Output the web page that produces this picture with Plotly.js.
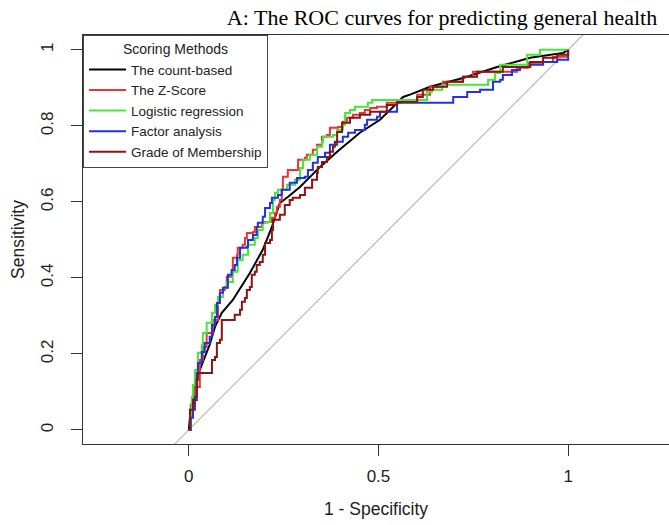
<!DOCTYPE html>
<html>
<head>
<meta charset="utf-8">
<script src="https://cdn.plot.ly/plotly-3.0.1.min.js"></script>
<style>
  html, body { margin: 0; padding: 0; background: #ffffff; }
  #chart { width: 669px; height: 525px; }
</style>
</head>
<body>
<div id="chart"></div>
<script>
// ---- Data ----
var seriesNames = ["The count-based", "The Z-Score", "Logistic regression", "Factor analysis", "Grade of Membership"];

// The count-based (smooth curve)
var countFpr = [0, 0.005, 0.016, 0.029, 0.055, 0.069, 0.087, 0.116, 0.161, 0.195, 0.219, 0.240, 0.261, 0.285, 0.293, 0.346, 0.391, 0.451, 0.504, 0.544, 0.565, 0.583, 0.636, 0.723, 0.813, 0.900, 0.987, 1];
var countTpr = [0, 0.053, 0.118, 0.158, 0.224, 0.271, 0.308, 0.342, 0.413, 0.474, 0.534, 0.597, 0.613, 0.632, 0.639, 0.692, 0.732, 0.782, 0.816, 0.855, 0.876, 0.882, 0.903, 0.926, 0.955, 0.979, 0.992, 1];

// The Z-Score
var zFpr = [0, 0.005, 0.016, 0.029, 0.037, 0.047, 0.063, 0.077, 0.082, 0.095, 0.100, 0.113, 0.116, 0.127, 0.129, 0.142, 0.148, 0.153, 0.169, 0.174, 0.193, 0.201, 0.219, 0.227, 0.232, 0.240, 0.245, 0.248, 0.261, 0.285, 0.288, 0.306, 0.311, 0.327, 0.338, 0.351, 0.364, 0.372, 0.393, 0.406, 0.417, 0.433, 0.451, 0.464, 0.478, 0.496, 0.522, 0.557, 0.602, 0.636, 0.670, 0.723, 0.749, 0.865, 0.894, 0.934, 0.960, 1];
var zTpr = [0, 0.066, 0.113, 0.184, 0.218, 0.255, 0.289, 0.342, 0.368, 0.376, 0.403, 0.416, 0.453, 0.461, 0.479, 0.487, 0.505, 0.518, 0.521, 0.534, 0.545, 0.547, 0.558, 0.571, 0.587, 0.605, 0.632, 0.666, 0.684, 0.684, 0.711, 0.716, 0.724, 0.737, 0.750, 0.771, 0.776, 0.795, 0.797, 0.811, 0.821, 0.829, 0.834, 0.842, 0.847, 0.850, 0.861, 0.868, 0.882, 0.903, 0.916, 0.929, 0.942, 0.953, 0.966, 0.968, 0.982, 1];

// Logistic regression
var logitFpr = [0, 0.005, 0.008, 0.011, 0.016, 0.024, 0.034, 0.037, 0.047, 0.061, 0.069, 0.077, 0.090, 0.100, 0.116, 0.129, 0.142, 0.156, 0.174, 0.182, 0.195, 0.206, 0.214, 0.222, 0.227, 0.235, 0.259, 0.280, 0.293, 0.301, 0.319, 0.338, 0.351, 0.354, 0.380, 0.391, 0.406, 0.412, 0.425, 0.438, 0.472, 0.483, 0.549, 0.623, 0.628, 0.641, 0.668, 0.786, 0.789, 0.807, 0.821, 0.847, 0.892, 0.926, 1];
var logitTpr = [0, 0.053, 0.087, 0.118, 0.158, 0.203, 0.224, 0.255, 0.282, 0.308, 0.329, 0.350, 0.374, 0.389, 0.416, 0.447, 0.461, 0.487, 0.505, 0.526, 0.545, 0.547, 0.571, 0.605, 0.624, 0.632, 0.645, 0.658, 0.689, 0.711, 0.724, 0.745, 0.758, 0.771, 0.776, 0.789, 0.803, 0.834, 0.842, 0.850, 0.861, 0.868, 0.868, 0.868, 0.889, 0.895, 0.908, 0.908, 0.921, 0.939, 0.961, 0.961, 0.987, 1.0, 1];

// Factor analysis
var factorFpr = [0, 0.005, 0.011, 0.016, 0.021, 0.024, 0.034, 0.042, 0.055, 0.061, 0.069, 0.074, 0.082, 0.090, 0.103, 0.113, 0.121, 0.127, 0.135, 0.153, 0.156, 0.169, 0.179, 0.182, 0.195, 0.201, 0.214, 0.219, 0.235, 0.245, 0.259, 0.266, 0.285, 0.306, 0.314, 0.327, 0.340, 0.359, 0.372, 0.391, 0.406, 0.420, 0.438, 0.464, 0.470, 0.496, 0.504, 0.525, 0.549, 0.697, 0.697, 0.734, 0.734, 0.768, 0.802, 0.802, 0.821, 0.828, 0.852, 0.873, 0.900, 0.934, 0.971, 0.997, 1];
var factorTpr = [0, 0.032, 0.053, 0.087, 0.150, 0.176, 0.205, 0.229, 0.245, 0.276, 0.297, 0.334, 0.361, 0.374, 0.408, 0.421, 0.434, 0.453, 0.479, 0.482, 0.500, 0.513, 0.534, 0.545, 0.561, 0.584, 0.597, 0.611, 0.618, 0.632, 0.632, 0.650, 0.663, 0.666, 0.684, 0.703, 0.718, 0.729, 0.750, 0.758, 0.771, 0.782, 0.789, 0.803, 0.816, 0.824, 0.837, 0.837, 0.861, 0.866, 0.876, 0.876, 0.889, 0.895, 0.895, 0.916, 0.921, 0.934, 0.947, 0.955, 0.961, 0.968, 0.974, 0.974, 1];

// Grade of Membership
var gomFpr = [0, 0.003, 0.011, 0.021, 0.024, 0.061, 0.061, 0.069, 0.074, 0.082, 0.087, 0.121, 0.135, 0.140, 0.148, 0.153, 0.161, 0.166, 0.174, 0.179, 0.187, 0.195, 0.201, 0.214, 0.219, 0.222, 0.240, 0.253, 0.266, 0.274, 0.293, 0.306, 0.325, 0.338, 0.340, 0.351, 0.364, 0.372, 0.380, 0.385, 0.391, 0.404, 0.425, 0.451, 0.478, 0.522, 0.549, 0.602, 0.617, 0.644, 0.681, 0.723, 0.760, 0.828, 0.900, 0.934, 0.971, 1];
var gomTpr = [0, 0.053, 0.079, 0.132, 0.150, 0.163, 0.184, 0.192, 0.229, 0.237, 0.289, 0.303, 0.316, 0.337, 0.347, 0.368, 0.376, 0.408, 0.416, 0.434, 0.442, 0.461, 0.492, 0.500, 0.526, 0.553, 0.566, 0.592, 0.605, 0.611, 0.618, 0.637, 0.658, 0.676, 0.692, 0.705, 0.718, 0.732, 0.745, 0.758, 0.784, 0.808, 0.821, 0.829, 0.837, 0.855, 0.863, 0.876, 0.895, 0.903, 0.916, 0.929, 0.942, 0.955, 0.968, 0.979, 0.987, 1];

// Chance diagonal (identity line range)
var diagonal = [-0.2, 1.2];

// Tick labels
var xTickVals = [0, 0.5, 1];
var xTickText = ["0", "0.5", "1"];
var yTickVals = [0, 0.2, 0.4, 0.6, 0.8, 1];
var yTickText = ["0", "0.2", "0.4", "0.6", "0.8", "1"];

// ---- Styles ----
var colors = ["#000000", "#EE3333", "#44E83A", "#2233DD", "#8B1515"];
var xs = [countFpr, zFpr, logitFpr, factorFpr, gomFpr];
var ys = [countTpr, zTpr, logitTpr, factorTpr, gomTpr];
var shapes = ["linear", "hv", "hv", "hv", "hv"];

var traces = [{
  x: diagonal, y: diagonal, mode: "lines", showlegend: false, hoverinfo: "skip",
  line: { color: "#BDBDBD", width: 1.3 }
}];
for (var i = 0; i < seriesNames.length; i++) {
  traces.push({
    x: xs[i], y: ys[i], name: seriesNames[i], mode: "lines", type: "scatter",
    line: { color: colors[i], width: 2, shape: shapes[i] }
  });
}

var font = "Liberation Sans, Arial, sans-serif";
var layout = {
  width: 669, height: 525,
  margin: { l: 83, r: 0, t: 35, b: 81 },
  paper_bgcolor: "#ffffff", plot_bgcolor: "#ffffff",
  title: {
    text: "A: The ROC curves for predicting general health",
    font: { family: "Liberation Serif, Times New Roman, serif", size: 22, color: "#000000" },
    xref: "container", x: 442 / 669, xanchor: "center",
    yref: "container", y: 1 - 17 / 525, yanchor: "middle"
  },
  xaxis: {
    range: [-0.279, 1.266], showgrid: false, zeroline: false,
    showline: true, linecolor: "#333333", linewidth: 1, mirror: true,
    ticks: "outside", ticklen: 11, tickcolor: "#333333", tickwidth: 1,
    tickvals: xTickVals, ticktext: xTickText, ticklabelstandoff: 6,
    tickfont: { family: font, size: 17, color: "#222222" },
    title: { text: "1 - Specificity", font: { family: font, size: 17.5, color: "#222222" }, standoff: 17 }
  },
  yaxis: {
    range: [-0.037, 1.039], showgrid: false, zeroline: false,
    showline: true, linecolor: "#333333", linewidth: 1, mirror: false,
    ticks: "outside", ticklen: 11, tickcolor: "#333333", tickwidth: 1,
    tickvals: yTickVals, ticktext: yTickText, tickangle: -90, ticklabelstandoff: 11,
    tickfont: { family: font, size: 17, color: "#222222" },
    title: { text: "Sensitivity", font: { family: font, size: 17.5, color: "#222222" }, standoff: 9 }
  },
  legend: {
    x: 0, y: 1, xanchor: "left", yanchor: "top",
    bgcolor: "#ffffff", bordercolor: "#444444", borderwidth: 1,
    font: { family: font, size: 13.5, color: "#222222" },
    title: { text: "Scoring Methods", side: "top center", font: { family: font, size: 14, color: "#222222" } },
    itemwidth: 37,
    tracegroupgap: 0
  },
  showlegend: true
};

Plotly.newPlot("chart", traces, layout, { displayModeBar: false, staticPlot: true });
</script>
</body>
</html>
